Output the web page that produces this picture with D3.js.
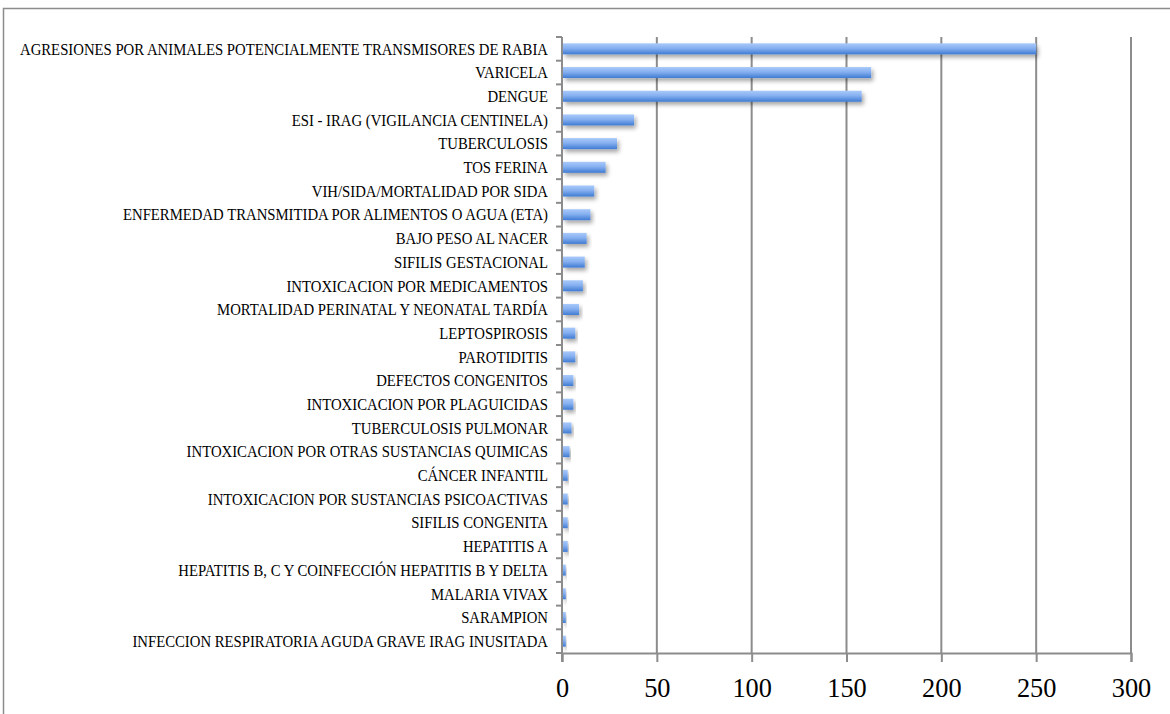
<!DOCTYPE html>
<html><head><meta charset="utf-8">
<script src="https://cdn.jsdelivr.net/npm/d3@7"></script>
<style>body{margin:0;background:#fff;} svg{display:block;}</style>
</head><body>
<script>
const categories = [
 "AGRESIONES POR ANIMALES POTENCIALMENTE TRANSMISORES DE RABIA",
 "VARICELA",
 "DENGUE",
 "ESI - IRAG (VIGILANCIA CENTINELA)",
 "TUBERCULOSIS",
 "TOS FERINA",
 "VIH/SIDA/MORTALIDAD POR SIDA",
 "ENFERMEDAD TRANSMITIDA POR ALIMENTOS O AGUA (ETA)",
 "BAJO PESO AL NACER",
 "SIFILIS GESTACIONAL",
 "INTOXICACION POR MEDICAMENTOS",
 "MORTALIDAD PERINATAL Y NEONATAL TARDÍA",
 "LEPTOSPIROSIS",
 "PAROTIDITIS",
 "DEFECTOS CONGENITOS",
 "INTOXICACION POR PLAGUICIDAS",
 "TUBERCULOSIS PULMONAR",
 "INTOXICACION POR OTRAS SUSTANCIAS QUIMICAS",
 "CÁNCER INFANTIL",
 "INTOXICACION POR SUSTANCIAS PSICOACTIVAS",
 "SIFILIS CONGENITA",
 "HEPATITIS A",
 "HEPATITIS B, C Y COINFECCIÓN HEPATITIS B Y DELTA",
 "MALARIA VIVAX",
 "SARAMPION",
 "INFECCION RESPIRATORIA AGUDA GRAVE IRAG INUSITADA"
];
const values = [250,163,158,38,29,23,17,15,13,12,11,9,7,7,6,6,5,4,3,3,3,3,2,2,2,2];
const xTicks = [0,50,100,150,200,250,300];

const W = 1170, H = 714;
const svg = d3.select("body").append("svg").attr("width", W).attr("height", H);

const defs = svg.append("defs");
const g1 = defs.append("linearGradient").attr("id","barGrad").attr("x1",0).attr("y1",0).attr("x2",0).attr("y2",1);
g1.append("stop").attr("offset","0%").attr("stop-color","#a9c9fa");
g1.append("stop").attr("offset","45%").attr("stop-color","#86b0f0");
g1.append("stop").attr("offset","100%").attr("stop-color","#3f7bd3");
const f = defs.append("filter").attr("id","shadow").attr("x","-20%").attr("y","-50%").attr("width","140%").attr("height","250%");
f.append("feDropShadow").attr("dx",2).attr("dy",3).attr("stdDeviation",2).attr("flood-color","#000").attr("flood-opacity",0.35);

// frame
svg.append("path").attr("d","M3.5,730 V8.5 H1175").attr("fill","none").attr("stroke","#8c8c8c").attr("stroke-width",1.5);

const x = d3.scaleLinear().domain([0,300]).range([562,1131]);
const y = d3.scaleBand().domain(categories).range([37,653]).paddingInner(0.535).paddingOuter(0.2675);

// gridlines
svg.append("g").selectAll("line").data(xTicks.filter(d=>d>0)).join("line")
  .attr("x1",d=>x(d)).attr("x2",d=>x(d)).attr("y1",37).attr("y2",653)
  .attr("stroke","#8c8c8c").attr("stroke-width",2);

// bars
svg.append("g").selectAll("rect").data(values).join("rect")
  .attr("x", x(0)+1)
  .attr("y",(d,i)=>y(categories[i]))
  .attr("width", d=>x(d)-x(0)-1)
  .attr("height", y.bandwidth())
  .attr("fill","url(#barGrad)")
  .attr("filter","url(#shadow)");

// y axis line and ticks at band boundaries
const step = y.step();
const bounds = d3.range(categories.length+1).map(i=>37+i*step);
svg.append("line").attr("x1",x(0)).attr("x2",x(0)).attr("y1",37).attr("y2",662).attr("stroke","#8c8c8c").attr("stroke-width",2);
svg.append("g").selectAll("line").data(bounds).join("line")
  .attr("x1",x(0)-6).attr("x2",x(0)).attr("y1",d=>d).attr("y2",d=>d)
  .attr("stroke","#8c8c8c").attr("stroke-width",2);

// x axis
const xAxis = svg.append("g").attr("transform","translate(0,653)")
  .call(d3.axisBottom(x).tickValues(xTicks).tickSize(9).tickFormat(d3.format("d")));
xAxis.select(".domain").attr("stroke","#8c8c8c").attr("stroke-width",2);
xAxis.selectAll(".tick line").attr("stroke","#8c8c8c").attr("stroke-width",2);
xAxis.selectAll(".tick text").attr("font-family","'Liberation Serif', serif").attr("font-size",28)
  .attr("fill","#000").attr("y",44).attr("dy",0)
  .each(function(){ const len=this.getComputedTextLength(); d3.select(this).attr("textLength",len*0.94).attr("lengthAdjust","spacingAndGlyphs"); });

// category labels
const labels = svg.append("g").selectAll("text").data(categories).join("text")
  .attr("x",548).attr("y",d=>y(d)+y.bandwidth()/2)
  .attr("dy","0.35em").attr("text-anchor","end")
  .attr("font-family","'Liberation Serif', serif").attr("font-size",16.5).attr("fill","#000")
  .text(d=>d);
const L0 = labels.nodes()[0].getComputedTextLength();
const factor = 528 / L0;
labels.each(function(){
  const len = this.getComputedTextLength();
  d3.select(this).attr("textLength", len*factor).attr("lengthAdjust","spacingAndGlyphs");
});
</script>
</body></html>
